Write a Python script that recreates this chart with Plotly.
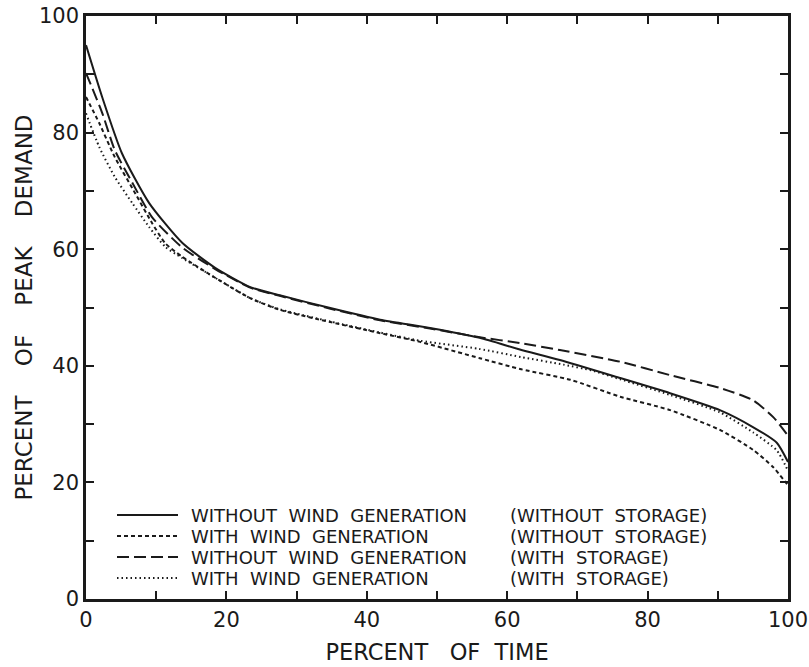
import plotly.graph_objects as go

# ---- data ----
series_names = [
    "WITHOUT WIND GENERATION",
    "WITH WIND GENERATION",
    "WITHOUT WIND GENERATION",
    "WITH WIND GENERATION",
]
series_storage = [
    "(WITHOUT STORAGE)",
    "(WITHOUT STORAGE)",
    "(WITH STORAGE)",
    "(WITH STORAGE)",
]

x_solid = [0, 2.3, 5.1, 9, 13.7, 18.4, 23.4, 27.6, 34.8, 41.9, 49, 56.1, 61.8, 67.5, 76.1, 83.2, 90.3, 95, 98.4, 100]
y_solid = [95, 86.1, 76.5, 67.9, 61.1, 56.8, 53.5, 52.1, 49.9, 47.9, 46.5, 44.8, 42.8, 41.0, 37.9, 35.3, 32.4, 29.5, 26.8, 23.5]

x_wind = [0, 1.9, 4.1, 7.0, 9.4, 11.3, 13.7, 18.4, 23.4, 27.6, 34.8, 41.9, 47.6, 56.1, 62, 69, 76.1, 83.2, 90.3, 95, 97.9, 100]
y_wind = [86.1, 81.6, 75.8, 69.6, 64.5, 61.0, 58.7, 55.1, 51.6, 49.6, 47.5, 45.6, 44.1, 41.3, 39.4, 37.6, 34.7, 32.4, 29.0, 25.6, 22.6, 19.5]

x_storage = [0, 2.3, 4.1, 6.6, 9.4, 13.7, 18.4, 23.4, 27.6, 34.8, 41.9, 49, 56.1, 61.8, 67.5, 76.1, 83.2, 90.3, 95, 97.9, 100]
y_storage = [90.2, 83.4, 77.0, 71.4, 65.5, 60.3, 56.6, 53.4, 52.0, 49.8, 47.8, 46.4, 44.9, 43.9, 42.7, 40.7, 38.4, 36.2, 34.1, 31.2, 28.0]

x_wind_storage = [0, 1.9, 4.1, 6.6, 9.0, 11.3, 13.7, 18.4, 23.4, 27.6, 34.8, 41.9, 47.6, 56, 62, 68, 72, 76.1, 83.2, 90.3, 95, 98.4, 100]
y_wind_storage = [83.3, 77.5, 72.4, 67.9, 63.8, 60.4, 58.5, 55.1, 51.6, 49.7, 47.6, 45.7, 44.3, 42.9, 41.5, 40.2, 39.2, 37.7, 35.0, 32.0, 28.6, 25.5, 22.0]

x_ticks = [0, 20, 40, 60, 80, 100]
y_ticks = [0, 20, 40, 60, 80, 100]

xs = [x_solid, x_wind, x_storage, x_wind_storage]
ys = [y_solid, y_wind, y_storage, y_wind_storage]
dashes = ["solid", "4px,3px", "12px,5px", "1.5px,3px"]

FONT = "DejaVu Sans"
INK = "#1a1a1a"
NB = "\u00a0"

def spaced(s, n=2):
    return s.replace(" ", NB * n)

fig = go.Figure()
for i in range(4):
    fig.add_trace(go.Scatter(
        x=xs[i], y=ys[i], mode="lines",
        line=dict(color=INK, width=2, dash=dashes[i], shape="spline", smoothing=0.6),
        name=series_names[i] + " " + series_storage[i],
        showlegend=False,
    ))

# on-screen plot box
FIG_W, FIG_H = 809, 667
L, T, W, H = 86, 16, 702, 583
def px(xp):
    return (xp - L) / W
def py(yp):
    return (T + H - yp) / H

row_y = [515, 536, 557, 578]
for i in range(4):
    yc = py(row_y[i])
    fig.add_shape(type="line", xref="paper", yref="paper",
                  x0=px(117), x1=px(178), y0=yc, y1=yc,
                  line=dict(color=INK, width=1.8, dash=dashes[i]))
    fig.add_annotation(xref="paper", yref="paper", x=px(190), y=yc,
                       xanchor="left", yanchor="middle", showarrow=False, borderpad=0,
                       text=spaced(series_names[i]), font=dict(family=FONT, size=18, color=INK))
    fig.add_annotation(xref="paper", yref="paper", x=px(509), y=yc,
                       xanchor="left", yanchor="middle", showarrow=False, borderpad=0,
                       text=spaced(series_storage[i]), font=dict(family=FONT, size=18, color=INK))

axis_common = dict(
    showgrid=False, zeroline=False, automargin=False,
    showline=True, linecolor=INK, linewidth=2.5, mirror="ticks",
    ticks="inside", ticklen=8, tickwidth=1.8, tickcolor=INK,
    minor=dict(dtick=10, ticks="inside", ticklen=8, tickwidth=1.8, tickcolor=INK),
    tickfont=dict(family=FONT, size=21, color=INK),
)

fig.update_layout(
    width=FIG_W, height=FIG_H,
    margin=dict(l=L, r=FIG_W - L - W, t=T, b=FIG_H - T - H),
    paper_bgcolor="white", plot_bgcolor="white",
    xaxis=dict(range=[0, 100], tickvals=x_ticks, ticktext=[str(v) for v in x_ticks],
               title=dict(text="PERCENT" + NB * 3 + "OF" + NB * 2 + "TIME",
                          font=dict(family=FONT, size=22.5, color=INK), standoff=14),
               **axis_common),
    yaxis=dict(range=[0, 100], tickvals=y_ticks, ticktext=[str(v) for v in y_ticks],
               title=dict(text="PERCENT" + NB * 4 + "OF" + NB * 4 + "PEAK" + NB * 4 + "DEMAND",
                          font=dict(family=FONT, size=23, color=INK), standoff=0),
               **axis_common),
)

# remove the page's default body margin so the figure fills the window exactly
fig.write_html("out.html", config={"displayModeBar": False},
               post_script="document.body.style.margin='0';")
